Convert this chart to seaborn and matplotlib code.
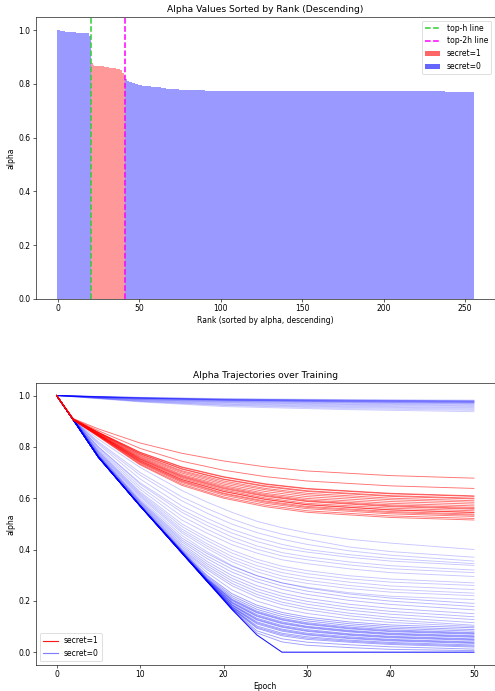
import numpy as np
import pandas as pd
import matplotlib
matplotlib.use("Agg")
import matplotlib.pyplot as plt
from matplotlib.lines import Line2D
from matplotlib.patches import Patch
import seaborn as sns

# ---------------- top panel data ----------------
# alpha values by rank (descending); runs of (value, count) for the long tail
ALPHA_HEAD = [
    1.000, 0.999, 0.998, 0.997, 0.996, 0.995, 0.995, 0.994, 0.994, 0.993, 0.993,
    0.992, 0.991, 0.990, 0.990, 0.990, 0.990, 0.990, 0.989, 0.988, 0.980,
    0.878, 0.870, 0.868, 0.867, 0.866, 0.866, 0.865, 0.865, 0.864, 0.863, 0.862,
    0.861, 0.860, 0.859, 0.858, 0.857, 0.856, 0.854, 0.851, 0.840, 0.830,
    0.820, 0.810, 0.807, 0.806, 0.805, 0.803, 0.800, 0.798, 0.796, 0.795, 0.794,
    0.793, 0.793, 0.792, 0.792, 0.791, 0.790, 0.789, 0.789, 0.788, 0.788,
    0.787, 0.786, 0.785, 0.784, 0.783, 0.782, 0.782, 0.781, 0.781, 0.781, 0.780,
    0.780, 0.779, 0.778, 0.777,
]
ALPHA_TAIL_RUNS = [(0.776, 13), (0.774, 41), (0.772, 106), (0.770, 18)]
SECRET_RANKS = list(range(21, 42))   # ranks whose secret flag is 1
TOP_H_LINE = 20.5
TOP_2H_LINE = 41.5

# ---------------- bottom panel data ----------------
EPOCHS_TOP = [0, 10, 20, 35, 50]
TRAJ_TOP = [
    [1.0, 0.993, 0.988, 0.984, 0.982],
    [1.0, 0.992, 0.986, 0.982, 0.980],
    [1.0, 0.992, 0.986, 0.982, 0.979],
    [1.0, 0.991, 0.985, 0.981, 0.978],
    [1.0, 0.991, 0.984, 0.980, 0.977],
    [1.0, 0.990, 0.984, 0.979, 0.976],
    [1.0, 0.990, 0.983, 0.978, 0.975],
    [1.0, 0.990, 0.982, 0.977, 0.974],
    [1.0, 0.989, 0.982, 0.976, 0.973],
    [1.0, 0.989, 0.981, 0.975, 0.972],
    [1.0, 0.988, 0.980, 0.974, 0.970],
    [1.0, 0.987, 0.978, 0.972, 0.968],
    [1.0, 0.986, 0.977, 0.970, 0.966],
    [1.0, 0.985, 0.975, 0.967, 0.963],
    [1.0, 0.984, 0.973, 0.965, 0.960],
    [1.0, 0.983, 0.971, 0.962, 0.957],
    [1.0, 0.981, 0.968, 0.959, 0.953],
    [1.0, 0.980, 0.966, 0.956, 0.950],
    [1.0, 0.978, 0.963, 0.953, 0.946],
    [1.0, 0.977, 0.961, 0.949, 0.942],
    [1.0, 0.975, 0.957, 0.945, 0.937],
]

EPOCHS_RED = [0, 2, 5, 10, 15, 20, 25, 30, 40, 50]
TRAJ_RED = [
    [1.0, 0.910, 0.870, 0.815, 0.775, 0.745, 0.722, 0.706, 0.688, 0.678],
    [1.0, 0.909, 0.863, 0.794, 0.744, 0.709, 0.684, 0.667, 0.648, 0.638],
    [1.0, 0.908, 0.857, 0.779, 0.722, 0.684, 0.656, 0.638, 0.619, 0.609],
    [1.0, 0.908, 0.857, 0.778, 0.720, 0.682, 0.654, 0.636, 0.617, 0.607],
    [1.0, 0.908, 0.856, 0.774, 0.715, 0.675, 0.648, 0.629, 0.610, 0.600],
    [1.0, 0.907, 0.855, 0.773, 0.713, 0.673, 0.645, 0.626, 0.607, 0.597],
    [1.0, 0.907, 0.854, 0.769, 0.707, 0.667, 0.638, 0.619, 0.600, 0.590],
    [1.0, 0.907, 0.853, 0.766, 0.703, 0.661, 0.633, 0.613, 0.594, 0.584],
    [1.0, 0.907, 0.851, 0.762, 0.698, 0.655, 0.626, 0.606, 0.587, 0.577],
    [1.0, 0.906, 0.850, 0.759, 0.692, 0.649, 0.619, 0.599, 0.580, 0.570],
    [1.0, 0.906, 0.849, 0.756, 0.688, 0.644, 0.614, 0.593, 0.574, 0.564],
    [1.0, 0.906, 0.848, 0.753, 0.685, 0.640, 0.610, 0.589, 0.570, 0.560],
    [1.0, 0.906, 0.848, 0.752, 0.682, 0.637, 0.607, 0.587, 0.567, 0.557],
    [1.0, 0.906, 0.847, 0.749, 0.678, 0.632, 0.601, 0.580, 0.561, 0.551],
    [1.0, 0.906, 0.846, 0.746, 0.673, 0.627, 0.596, 0.575, 0.555, 0.545],
    [1.0, 0.905, 0.845, 0.745, 0.672, 0.626, 0.595, 0.574, 0.554, 0.544],
    [1.0, 0.905, 0.844, 0.742, 0.668, 0.620, 0.589, 0.568, 0.548, 0.538],
    [1.0, 0.905, 0.844, 0.740, 0.665, 0.617, 0.585, 0.564, 0.544, 0.534],
    [1.0, 0.905, 0.843, 0.737, 0.661, 0.612, 0.580, 0.559, 0.539, 0.529],
    [1.0, 0.905, 0.841, 0.733, 0.655, 0.605, 0.573, 0.551, 0.531, 0.521],
    [1.0, 0.905, 0.840, 0.730, 0.650, 0.600, 0.567, 0.545, 0.525, 0.515],
]

EPOCHS_BULK = [0, 2, 5, 10, 15, 18, 21, 24, 27, 30, 35, 40, 50]
# secret=0 lines that peel off the leading edge early (high finals)
TRAJ_PEEL_EARLY = [
    [1.0, 0.905, 0.830, 0.720, 0.630, 0.585, 0.545, 0.510, 0.485, 0.465, 0.440, 0.425, 0.400],
    [1.0, 0.905, 0.820, 0.700, 0.605, 0.560, 0.519, 0.485, 0.460, 0.440, 0.410, 0.392, 0.370],
    [1.0, 0.905, 0.815, 0.690, 0.590, 0.542, 0.499, 0.466, 0.440, 0.420, 0.395, 0.378, 0.355],
    [1.0, 0.905, 0.810, 0.675, 0.570, 0.522, 0.479, 0.446, 0.420, 0.400, 0.380, 0.365, 0.345],
    [1.0, 0.905, 0.800, 0.660, 0.555, 0.507, 0.464, 0.431, 0.405, 0.390, 0.370, 0.355, 0.338],
    [1.0, 0.905, 0.800, 0.655, 0.545, 0.494, 0.449, 0.414, 0.388, 0.372, 0.352, 0.337, 0.320],
    [1.0, 0.905, 0.795, 0.645, 0.530, 0.479, 0.434, 0.401, 0.375, 0.360, 0.340, 0.325, 0.310],
    [1.0, 0.905, 0.790, 0.635, 0.515, 0.464, 0.419, 0.386, 0.360, 0.345, 0.325, 0.310, 0.295],
    [1.0, 0.905, 0.785, 0.625, 0.500, 0.446, 0.398, 0.362, 0.335, 0.318, 0.298, 0.285, 0.270],
    [1.0, 0.905, 0.783, 0.620, 0.490, 0.435, 0.386, 0.350, 0.323, 0.306, 0.286, 0.273, 0.260],
    [1.0, 0.905, 0.780, 0.615, 0.480, 0.423, 0.373, 0.337, 0.310, 0.293, 0.273, 0.258, 0.244],
    [1.0, 0.905, 0.777, 0.610, 0.472, 0.414, 0.362, 0.325, 0.297, 0.280, 0.260, 0.245, 0.230],
    [1.0, 0.905, 0.775, 0.605, 0.465, 0.405, 0.352, 0.313, 0.285, 0.268, 0.248, 0.234, 0.220],
    [1.0, 0.905, 0.772, 0.598, 0.455, 0.392, 0.338, 0.298, 0.270, 0.253, 0.232, 0.218, 0.205],
]
# secret=0 lines that peel off mid-way
TRAJ_PEEL_MID = [
    [1.0, 0.905, 0.770, 0.592, 0.445, 0.385, 0.335, 0.298, 0.270, 0.250, 0.227, 0.211, 0.190],
    [1.0, 0.905, 0.768, 0.588, 0.437, 0.375, 0.324, 0.286, 0.258, 0.238, 0.215, 0.199, 0.178],
    [1.0, 0.905, 0.766, 0.585, 0.430, 0.365, 0.312, 0.274, 0.245, 0.225, 0.202, 0.186, 0.165],
    [1.0, 0.905, 0.765, 0.582, 0.422, 0.354, 0.299, 0.259, 0.230, 0.210, 0.187, 0.171, 0.150],
    [1.0, 0.905, 0.763, 0.579, 0.415, 0.345, 0.288, 0.247, 0.218, 0.198, 0.175, 0.159, 0.138],
    [1.0, 0.905, 0.762, 0.577, 0.409, 0.337, 0.278, 0.236, 0.207, 0.187, 0.164, 0.148, 0.127],
    [1.0, 0.905, 0.761, 0.575, 0.403, 0.329, 0.268, 0.225, 0.195, 0.175, 0.152, 0.136, 0.115],
    [1.0, 0.905, 0.760, 0.573, 0.399, 0.322, 0.259, 0.215, 0.185, 0.165, 0.142, 0.126, 0.105],
    [1.0, 0.905, 0.760, 0.572, 0.397, 0.311, 0.243, 0.199, 0.170, 0.151, 0.130, 0.116, 0.100],
]
# secret=0 lines that follow the leading edge and peel off late (dense low band)
TRAJ_PEEL_LATE = [
    [1.0, 0.905, 0.760, 0.571, 0.395, 0.300, 0.228, 0.183, 0.155, 0.137, 0.118, 0.106, 0.095],
    [1.0, 0.905, 0.760, 0.570, 0.393, 0.295, 0.220, 0.175, 0.147, 0.129, 0.111, 0.099, 0.088],
    [1.0, 0.905, 0.760, 0.570, 0.391, 0.290, 0.213, 0.167, 0.139, 0.122, 0.104, 0.093, 0.082],
    [1.0, 0.905, 0.760, 0.570, 0.390, 0.287, 0.207, 0.160, 0.132, 0.115, 0.098, 0.087, 0.076],
    [1.0, 0.905, 0.760, 0.570, 0.389, 0.285, 0.204, 0.156, 0.128, 0.111, 0.094, 0.083, 0.073],
    [1.0, 0.905, 0.760, 0.570, 0.389, 0.284, 0.201, 0.153, 0.125, 0.108, 0.091, 0.080, 0.070],
    [1.0, 0.905, 0.760, 0.570, 0.388, 0.282, 0.196, 0.146, 0.118, 0.101, 0.085, 0.074, 0.064],
    [1.0, 0.905, 0.760, 0.570, 0.388, 0.281, 0.193, 0.142, 0.114, 0.098, 0.082, 0.071, 0.061],
    [1.0, 0.905, 0.760, 0.570, 0.388, 0.280, 0.191, 0.139, 0.111, 0.095, 0.079, 0.068, 0.058],
    [1.0, 0.905, 0.760, 0.570, 0.387, 0.279, 0.186, 0.132, 0.104, 0.088, 0.072, 0.062, 0.052],
    [1.0, 0.905, 0.760, 0.570, 0.387, 0.278, 0.184, 0.128, 0.100, 0.084, 0.069, 0.059, 0.049],
    [1.0, 0.905, 0.760, 0.570, 0.387, 0.278, 0.182, 0.125, 0.097, 0.081, 0.066, 0.056, 0.046],
    [1.0, 0.905, 0.760, 0.570, 0.387, 0.277, 0.178, 0.118, 0.090, 0.074, 0.060, 0.050, 0.040],
    [1.0, 0.905, 0.760, 0.570, 0.387, 0.277, 0.176, 0.114, 0.086, 0.070, 0.056, 0.047, 0.037],
    [1.0, 0.905, 0.760, 0.570, 0.387, 0.277, 0.175, 0.110, 0.082, 0.067, 0.053, 0.044, 0.034],
    [1.0, 0.905, 0.760, 0.570, 0.387, 0.277, 0.172, 0.102, 0.074, 0.060, 0.047, 0.038, 0.028],
    [1.0, 0.905, 0.760, 0.570, 0.387, 0.277, 0.171, 0.097, 0.069, 0.055, 0.043, 0.034, 0.024],
    [1.0, 0.905, 0.760, 0.570, 0.387, 0.277, 0.170, 0.093, 0.064, 0.050, 0.039, 0.030, 0.020],
    [1.0, 0.905, 0.760, 0.570, 0.387, 0.277, 0.168, 0.083, 0.052, 0.039, 0.029, 0.021, 0.012],
    [1.0, 0.905, 0.760, 0.570, 0.387, 0.277, 0.167, 0.075, 0.040, 0.027, 0.018, 0.011, 0.006],
]
TRAJ_EDGE = [
    [1.0, 0.905, 0.760, 0.570, 0.387, 0.277, 0.167, 0.067, 0.0, 0.0, 0.0, 0.0, 0.0],
]


def long_form(epochs, trajs):
    rows = []
    for i, tr in enumerate(trajs):
        for e, v in zip(epochs, tr):
            rows.append({"line": i, "epoch": e, "alpha": v})
    return pd.DataFrame(rows)


# build the bar table
alpha_sorted = list(ALPHA_HEAD)
for v, n in ALPHA_TAIL_RUNS:
    alpha_sorted += [v] * n
ranks = list(range(len(alpha_sorted)))
secret = [1 if r in SECRET_RANKS else 0 for r in ranks]
bars = pd.DataFrame({"rank": ranks, "alpha": alpha_sorted, "secret": secret})

DPI = 55
fig = plt.figure(figsize=(496 / DPI, 691 / DPI), dpi=DPI)
ax1 = fig.add_axes([0.0726, 0.5673, 0.9250, 0.4085])
ax2 = fig.add_axes([0.0720, 0.0376, 0.9256, 0.4086])

# ---- top: bars ----
sns.barplot(data=bars, x="rank", y="alpha", hue="secret", native_scale=True,
            dodge=False, palette={1: "red", 0: "blue"}, saturation=1.0,
            alpha=0.4, width=1.0, errorbar=None, linewidth=0, legend=False,
            ax=ax1)
ax1.axvline(TOP_H_LINE, color="limegreen", ls="--", lw=2)
ax1.axvline(TOP_2H_LINE, color="magenta", ls="--", lw=2)
ax1.set_xlim(-13.3, 268.3)
ax1.set_ylim(0, 1.05)
ax1.set_xticks([0, 50, 100, 150, 200, 250])
ax1.set_xticklabels(["0", "50", "100", "150", "200", "250"])
ax1.set_yticks([0.0, 0.2, 0.4, 0.6, 0.8, 1.0])
ax1.set_title("Alpha Values Sorted by Rank (Descending)")
ax1.set_xlabel("Rank (sorted by alpha, descending)")
ax1.set_ylabel("alpha")
h1 = [Line2D([0], [0], color="limegreen", ls="--", lw=2),
      Line2D([0], [0], color="magenta", ls="--", lw=2),
      Patch(facecolor="red", alpha=0.6),
      Patch(facecolor="blue", alpha=0.6)]
ax1.legend(h1, ["top-h line", "top-2h line", "secret=1", "secret=0"],
           loc="upper right")

# ---- bottom: trajectories ----
groups = [
    (long_form(EPOCHS_TOP, TRAJ_TOP), "blue", 0.2, 1.2),
    (long_form(EPOCHS_BULK, TRAJ_PEEL_EARLY), "blue", 0.22, 1.2),
    (long_form(EPOCHS_BULK, TRAJ_PEEL_MID), "blue", 0.28, 1.2),
    (long_form(EPOCHS_BULK, TRAJ_PEEL_LATE), "blue", 0.38, 1.2),
    (long_form(EPOCHS_BULK, TRAJ_EDGE), "blue", 0.9, 1.4),
    (long_form(EPOCHS_RED, TRAJ_RED), "red", 0.55, 1.2),
]
for df, col, a, lw in groups:
    sns.lineplot(data=df, x="epoch", y="alpha", units="line", estimator=None,
                 color=col, alpha=a, lw=lw, legend=False, ax=ax2)
ax2.set_xlim(-2.5, 52.5)
ax2.set_ylim(-0.05, 1.05)
ax2.set_xticks([0, 10, 20, 30, 40, 50])
ax2.set_yticks([0.0, 0.2, 0.4, 0.6, 0.8, 1.0])
ax2.set_title("Alpha Trajectories over Training")
ax2.set_xlabel("Epoch")
ax2.set_ylabel("alpha")
h2 = [Line2D([0], [0], color="red", lw=1.5, alpha=0.9),
      Line2D([0], [0], color="blue", lw=1.5, alpha=0.5)]
ax2.legend(h2, ["secret=1", "secret=0"], loc="lower left")

fig.savefig("out.png", dpi=DPI)
